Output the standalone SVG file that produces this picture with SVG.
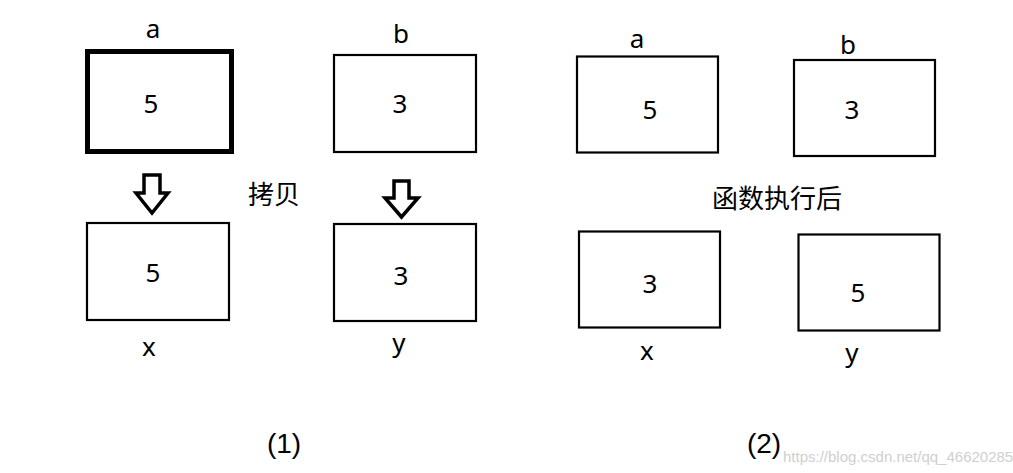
<svg xmlns="http://www.w3.org/2000/svg" width="1013" height="473" viewBox="0 0 1013 473">
<style>
.box{fill:#fff;stroke:#000;stroke-width:2.2}
.thick{stroke-width:5}
.t{font-family:"Noto Sans","Noto Sans CJK SC",sans-serif;font-size:26px;fill:#000;text-anchor:middle}
.cjk{font-family:"Noto Sans CJK SC","Noto Sans",sans-serif;font-size:26px;fill:#000;text-anchor:middle}
.cap{font-family:"Liberation Sans",Arial,sans-serif;font-size:28px;fill:#000;text-anchor:middle}
.wm{font-family:"Liberation Sans Narrow","Liberation Sans",sans-serif;font-size:15px;fill:#cfcfcf}
.arr{fill:#fff;stroke:#000;stroke-width:3.5;stroke-linejoin:miter}
</style>
<rect width="1013" height="473" fill="#fff"/>
<g id="node-a1"><rect class="box thick" x="87.5" y="51.5" width="144" height="100"/><text class="t" x="151" y="113">5</text><text class="t" x="153" y="38">a</text></g>
<g id="node-x1"><rect class="box" x="87" y="223" width="142" height="97"/><text class="t" x="153" y="282">5</text><text class="t" x="149" y="356">x</text></g>
<g id="node-b1"><rect class="box" x="334" y="55" width="142" height="97"/><text class="t" x="400" y="113">3</text><text class="t" x="401" y="43">b</text></g>
<g id="node-y1"><rect class="box" x="334" y="224" width="142" height="97"/><text class="t" x="401" y="285">3</text><text class="t" x="399" y="352">y</text></g>
<g id="label-copy"><text class="cjk" x="274" y="204">拷贝</text></g>
<g id="node-a2"><rect class="box" x="577" y="56.5" width="141" height="96"/><text class="t" x="650" y="119">5</text><text class="t" x="637" y="48">a</text></g>
<g id="node-b2"><rect class="box" x="794" y="60" width="141" height="96"/><text class="t" x="852" y="119">3</text><text class="t" x="848" y="54">b</text></g>
<g id="node-x2"><rect class="box" x="579" y="231.5" width="141" height="96"/><text class="t" x="650" y="293">3</text><text class="t" x="647" y="360">x</text></g>
<g id="node-y2"><rect class="box" x="798.5" y="234.5" width="141" height="96"/><text class="t" x="858" y="302">5</text><text class="t" x="852" y="362">y</text></g>
<g id="label-after"><text class="cjk" x="777" y="208">函数执行后</text></g>
<g id="connectors">
<polygon class="arr" points="144,175 160,175 160,193 168,193 152,213 136,193 144,193"/>
<polygon class="arr" points="394,181 409,181 409,198 418,198 401.5,217 385,198 394,198"/>
</g>
<g id="captions">
<text class="cap" x="284" y="453">(1)</text>
<text class="cap" x="764" y="453">(2)</text>
<text class="wm" x="783" y="462">https://blog.csdn.net/qq_46620285</text>
</g>
</svg>
